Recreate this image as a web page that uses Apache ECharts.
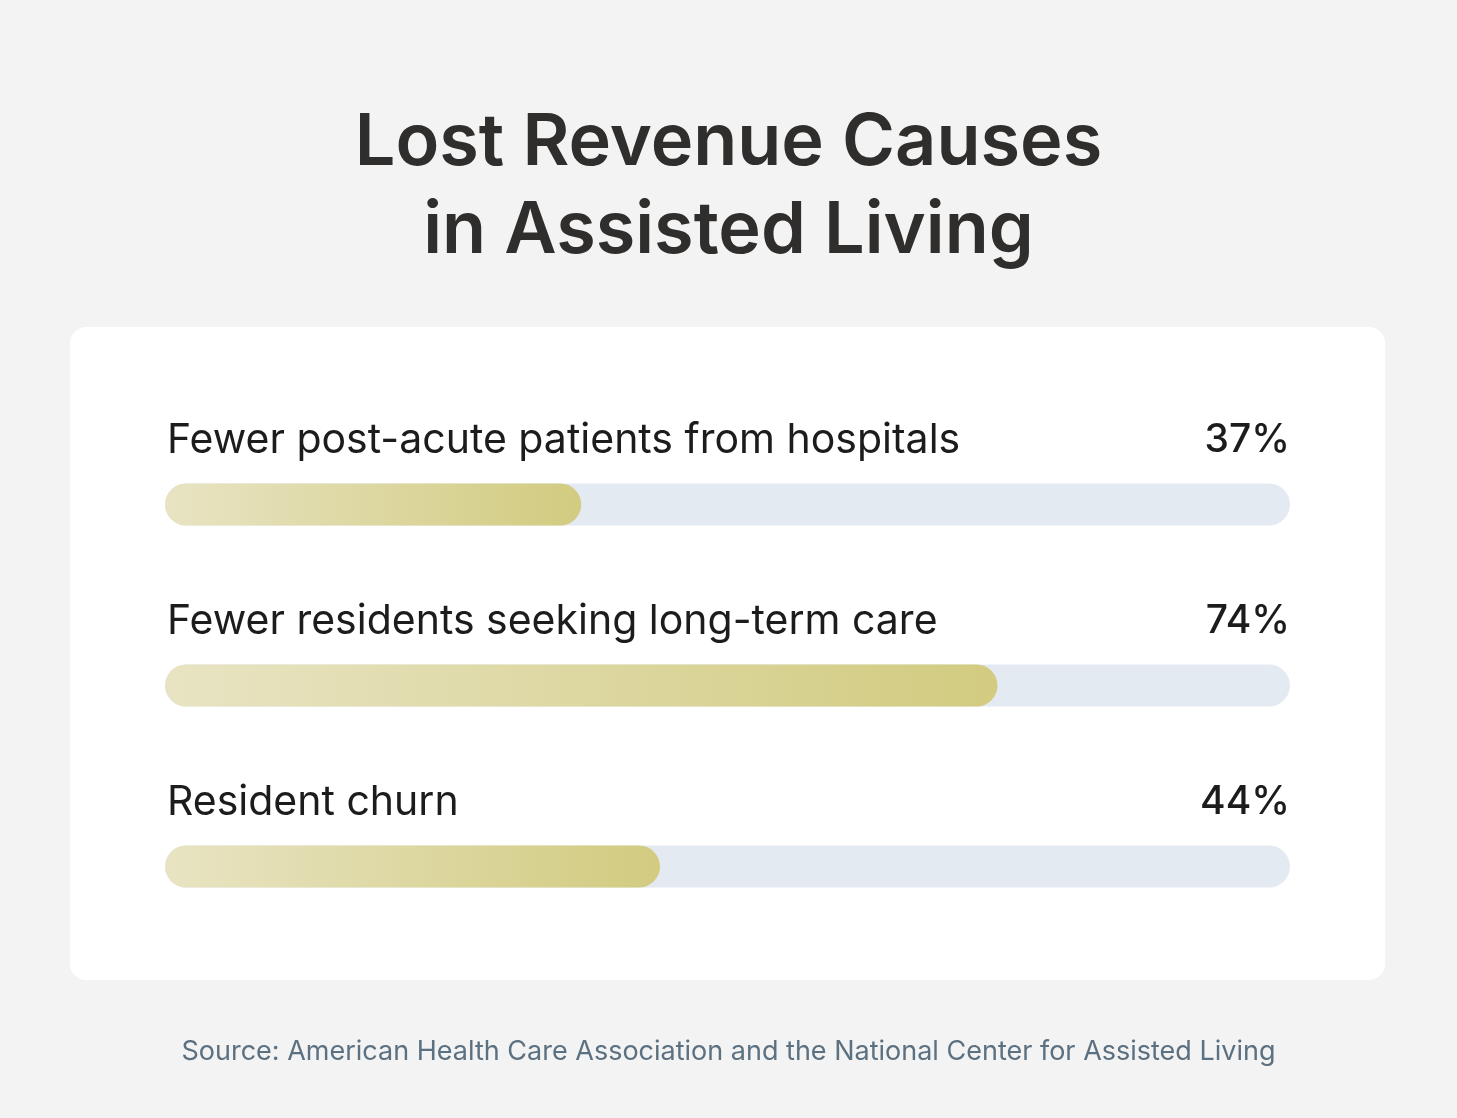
<!DOCTYPE html>
<html><head><meta charset="utf-8">
<script src="https://cdn.jsdelivr.net/npm/echarts@6/dist/echarts.min.js"></script>
<style>html,body{margin:0;padding:0;background:#f3f3f3}#c{width:1457px;height:1118px}</style>
</head><body><div id="c"></div>
<script>
const categories = ['Fewer post-acute patients from hospitals', 'Fewer residents seeking long-term care', 'Resident churn'];
const values = [37, 74, 44];
const trackValues = [100, 100, 100];

const chart = echarts.init(document.getElementById('c'));
const FONT = 'Inter, "Noto Sans", sans-serif';
chart.setOption({
  backgroundColor: '#f3f3f3',
  animation: false,
  title: [{
    text: 'Lost Revenue Causes\nin Assisted Living',
    left: 'center', top: 94,
    textStyle: { fontFamily: FONT, fontSize: 72, fontWeight: 600, color: '#2f2e2c', lineHeight: 88 }
  }, {
    text: 'Source: American Health Care Association and the National Center for Assisted Living',
    left: 'center', top: 1033,
    textStyle: { fontFamily: FONT, fontSize: 27, fontWeight: 400, color: '#5b7080' }
  }],
  graphic: [{
    type: 'rect', z: -10, silent: true,
    shape: { x: 70, y: 327, width: 1315, height: 653, r: 16 },
    style: { fill: '#ffffff' }
  }],
  grid: { left: 165, right: 167, top: 414, bottom: 161, containLabel: false },
  xAxis: { type: 'value', min: 0, max: 100, show: false },
  yAxis: { type: 'category', data: categories, inverse: true, show: false },
  series: [{
    type: 'bar', data: trackValues, barWidth: 42, barGap: '-100%', z: 1,
    itemStyle: { color: '#e3eaf1', borderRadius: 21 },
    label: {
      show: true, position: 'insideRight', distance: 0, offset: [0, -64],
      formatter: p => values[p.dataIndex] + '%',
      fontFamily: FONT, fontSize: 39, fontWeight: 500, color: '#1c1c1c'
    }
  }, {
    type: 'bar', data: values, barWidth: 42, z: 2,
    itemStyle: {
      borderRadius: 21,
      color: new echarts.graphic.LinearGradient(0, 0, 1, 0, [
        { offset: 0, color: '#e8e4c3' }, { offset: 1, color: '#d2cb80' }
      ])
    },
    label: {
      show: true, position: [2, -63], formatter: '{b}',
      fontFamily: FONT, fontSize: 41, fontWeight: 400, color: '#1c1c1c'
    }
  }]
});
</script></body></html>
